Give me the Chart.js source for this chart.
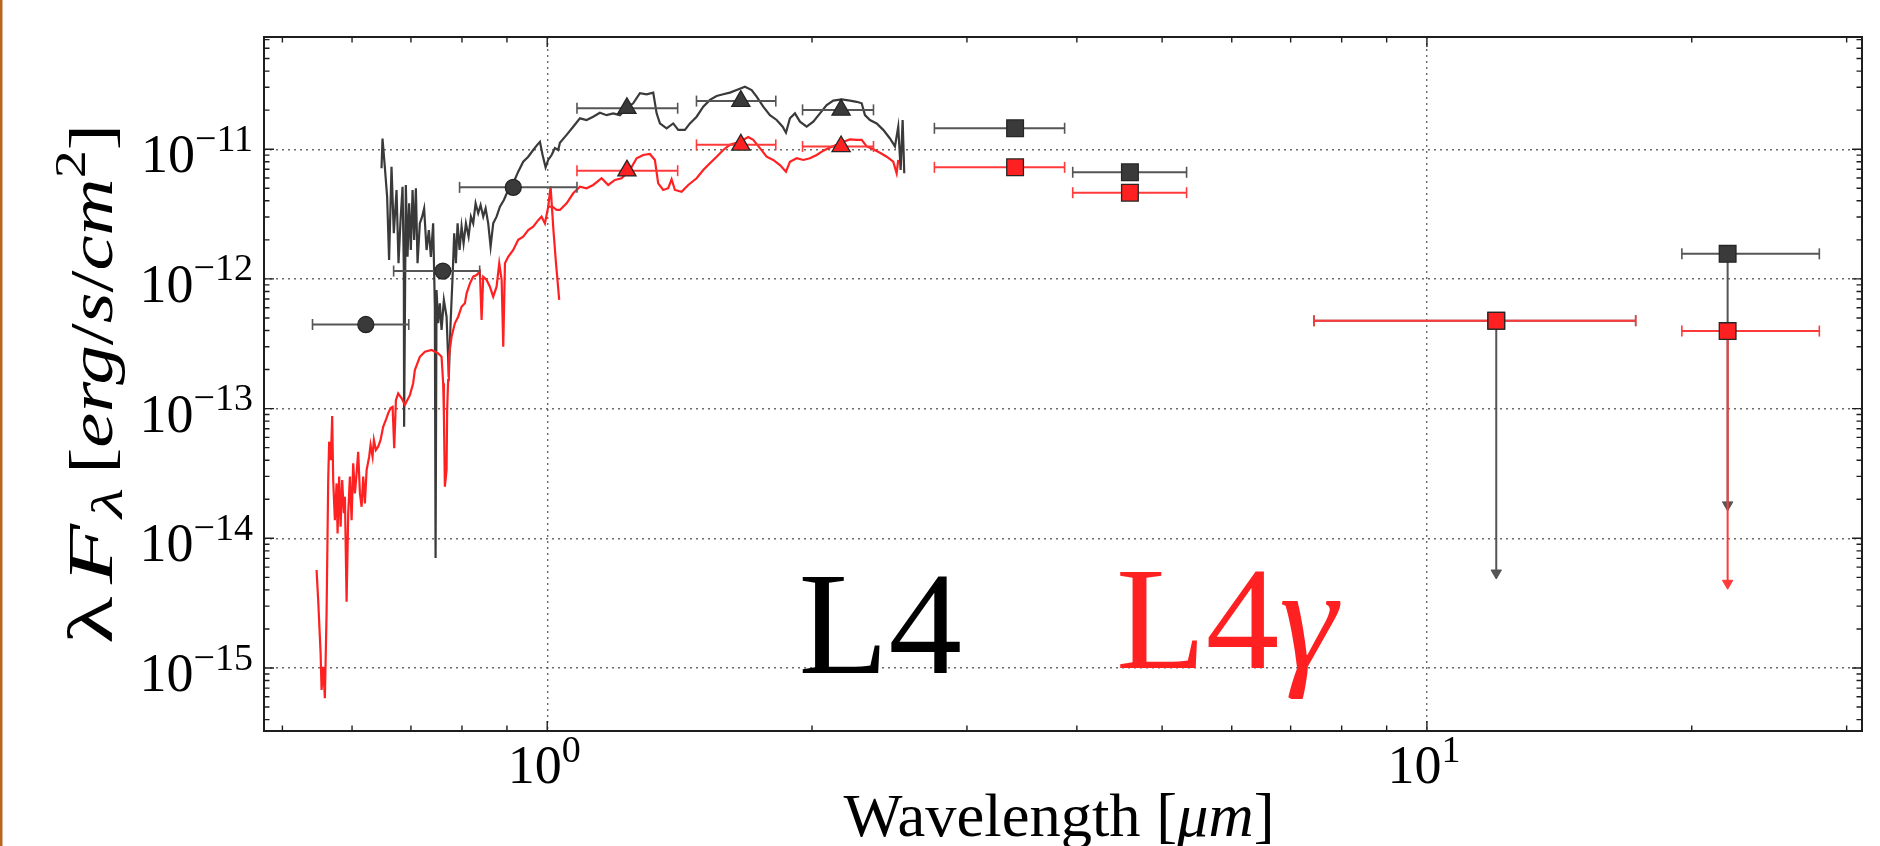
<!DOCTYPE html>
<html>
<head>
<meta charset="utf-8">
<script src="https://cdn.jsdelivr.net/npm/chart.js@4.4.1/dist/chart.umd.min.js"></script>
<style>
html,body{margin:0;padding:0;background:#ffffff;}
canvas{display:block;}
</style>
</head>
<body>
<canvas id="c" width="1880" height="846"></canvas>
<script>
// ---------------- DATA ----------------
// axis limits (wavelength in micron, flux in erg/s/cm^2)
const X_MIN = 0.4765, X_MAX = 31.23;
const Y_MIN = 3.268e-16, Y_MAX = 7.33e-11;
const xDecades = [0.1, 1, 10];
const yDecades = [1e-16, 1e-15, 1e-14, 1e-13, 1e-12, 1e-11];

// photometric bands
const photWave   = [0.622, 0.761, 0.915, 1.232, 1.660, 2.158, 3.403, 4.596, 11.99, 21.97];
const photWaveLo = [0.541, 0.669, 0.795, 1.081, 1.478, 1.951, 2.755, 3.957, 7.44, 19.49];
const photWaveHi = [0.696, 0.838, 1.081, 1.407, 1.819, 2.349, 3.874, 5.331, 17.27, 27.93];
const photBlack  = [4.45e-13, 1.15e-12, 5.08e-12, 2.07e-11, 2.35e-11, 2.01e-11, 1.45e-11, 6.64e-12, 4.76e-13, 1.56e-12];
const photRed    = [null, null, null, 6.83e-12, 1.08e-11, 1.05e-11, 7.25e-12, 4.62e-12, 4.76e-13, 3.96e-13];
const limitBlack = [null, null, null, null, null, null, null, null, 5.40e-15, 1.81e-14];
const limitRed   = [null, null, null, null, null, null, null, null, null, 4.50e-15];

// L4 template spectrum (black)
const specBlackWave = [0.6481,0.6498,0.6537,0.6577,0.6611,0.6653,0.6693,0.6741,0.6776,0.6812,0.6848,0.6871,0.6876,0.6907,0.6938,0.6967,0.6998,0.7030,0.7059,0.7091,0.7122,0.7165,0.7208,0.7246,0.7292,0.7336,0.7375,0.7419,0.7452,0.7466,0.7485,0.7517,0.7550,0.7584,0.7630,0.7684,0.7730,0.7765,0.7806,0.7839,0.7874,0.7909,0.7950,0.7992,0.8034,0.8083,0.8140,0.8190,0.8239,0.8291,0.8348,0.8400,0.8458,0.8511,0.8569,0.8623,0.8682,0.8759,0.8836,0.8928,0.9029,0.9149,0.9269,0.9391,0.9515,0.9640,0.9742,0.9811,0.9880,0.9958,1.0026,1.0116,1.0203,1.0292,1.0338,1.0521,1.0704,1.0894,1.1086,1.1279,1.1479,1.1682,1.1886,1.2096,1.2310,1.2524,1.2746,1.2972,1.3198,1.3316,1.3431,1.3669,1.3907,1.4091,1.4340,1.4529,1.4786,1.5044,1.5310,1.5581,1.5852,1.6133,1.6418,1.6779,1.7076,1.7301,1.7602,1.7914,1.8231,1.8520,1.8681,1.8877,1.9126,1.9378,1.9721,2.0065,2.0420,2.0781,2.1144,2.1614,2.2088,2.2479,2.2775,2.2972,2.3274,2.3686,2.4099,2.4525,2.4848,2.5063,2.5221,2.5353,2.5460];
const specBlackFlux = [7.12e-12,1.21e-11,7.33e-12,4.30e-12,1.40e-12,7.33e-12,2.25e-12,4.85e-12,1.32e-12,2.84e-12,5.14e-12,1.17e-12,7.25e-14,5.30e-12,1.48e-12,3.83e-12,1.67e-12,4.85e-12,2.00e-12,5.00e-12,1.32e-12,2.68e-12,3.02e-12,3.50e-12,1.67e-12,2.38e-12,1.48e-12,2.68e-12,6.10e-13,7.05e-15,8.21e-13,4.55e-13,6.48e-13,4.04e-13,6.88e-13,5.11e-13,1.76e-13,4.55e-13,1.04e-12,2.25e-12,1.32e-12,2.68e-12,1.67e-12,2.53e-12,1.88e-12,2.68e-12,2.12e-12,3.02e-12,2.68e-12,3.83e-12,3.21e-12,3.71e-12,3.02e-12,3.50e-12,2.68e-12,1.77e-12,2.68e-12,3.02e-12,3.60e-12,4.06e-12,4.85e-12,5.46e-12,6.71e-12,8.01e-12,8.75e-12,9.86e-12,1.08e-11,1.14e-11,9.02e-12,7.25e-12,8.26e-12,9.02e-12,1.02e-11,9.86e-12,1.12e-11,1.29e-11,1.49e-11,1.73e-11,1.68e-11,1.78e-11,1.91e-11,1.83e-11,1.89e-11,1.83e-11,2.07e-11,2.26e-11,2.70e-11,2.65e-11,2.73e-11,1.89e-11,1.58e-11,1.45e-11,1.58e-11,1.41e-11,1.41e-11,1.58e-11,1.78e-11,2.13e-11,2.40e-11,2.57e-11,2.65e-11,2.73e-11,2.86e-11,3.03e-11,2.86e-11,2.54e-11,2.13e-11,1.83e-11,1.68e-11,1.49e-11,1.34e-11,1.73e-11,1.89e-11,1.63e-11,1.49e-11,1.63e-11,1.89e-11,2.19e-11,2.37e-11,2.42e-11,2.37e-11,2.32e-11,2.26e-11,1.83e-11,1.68e-11,1.58e-11,1.41e-11,1.21e-11,1.05e-11,1.49e-11,6.91e-12,1.68e-11,6.52e-12];

// L4-gamma spectrum (red)
const specRedWave = [0.5468,0.5491,0.5526,0.5540,0.5563,0.5588,0.5613,0.5637,0.5651,0.5676,0.5696,0.5711,0.5736,0.5762,0.5777,0.5801,0.5823,0.5847,0.5873,0.5889,0.5915,0.5940,0.5966,0.5993,0.6018,0.6045,0.6072,0.6097,0.6125,0.6152,0.6178,0.6205,0.6233,0.6275,0.6298,0.6331,0.6353,0.6386,0.6425,0.6465,0.6509,0.6555,0.6595,0.6637,0.6672,0.6700,0.6730,0.6770,0.6831,0.6890,0.6932,0.6981,0.7041,0.7072,0.7165,0.7262,0.7389,0.7517,0.7584,0.7616,0.7630,0.7650,0.7684,0.7696,0.7716,0.7730,0.7785,0.7853,0.7921,0.7992,0.8062,0.8098,0.8169,0.8239,0.8313,0.8384,0.8422,0.8458,0.8533,0.8607,0.8682,0.8759,0.8820,0.8876,0.8913,0.8953,0.9029,0.9149,0.9269,0.9391,0.9515,0.9640,0.9767,0.9854,0.9940,1.0026,1.0142,1.0249,1.0338,1.0521,1.0704,1.0894,1.1086,1.1279,1.1530,1.1731,1.1939,1.2150,1.2416,1.2636,1.2856,1.3083,1.3256,1.3371,1.3547,1.3726,1.3849,1.3969,1.4216,1.4465,1.4786,1.5044,1.5310,1.5581,1.5852,1.6133,1.6560,1.6925,1.7147,1.7450,1.7759,1.8069,1.8389,1.8681,1.8877,1.9211,1.9546,1.9892,2.0245,2.0598,2.0962,2.1333,2.1705,2.2088,2.2479,2.2775,2.3075,2.3477,2.3893,2.4318,2.4737,2.4958,2.5063];
const specRedFlux = [5.70e-15,3.34e-15,1.30e-15,6.77e-16,1.02e-15,5.84e-16,2.64e-15,2.81e-14,5.56e-14,4.01e-14,8.77e-14,2.81e-14,1.38e-14,2.65e-14,1.09e-14,2.99e-14,1.23e-14,2.81e-14,1.56e-14,2.09e-14,3.24e-15,1.56e-14,2.99e-14,1.38e-14,3.79e-14,2.22e-14,3.17e-14,4.65e-14,2.22e-14,1.75e-14,2.99e-14,1.86e-14,3.36e-14,4.26e-14,5.24e-14,4.26e-14,5.73e-14,4.80e-14,5.09e-14,5.73e-14,7.25e-14,8.17e-14,9.20e-14,1.01e-13,1.03e-13,4.94e-14,1.16e-13,1.31e-13,1.20e-13,1.07e-13,1.16e-13,1.27e-13,1.57e-13,1.98e-13,2.51e-13,2.75e-13,2.83e-13,2.67e-13,2.51e-13,1.57e-13,9.20e-14,2.50e-14,3.36e-14,9.75e-14,1.66e-13,2.51e-13,3.58e-13,4.55e-13,5.11e-13,6.10e-13,6.48e-13,7.74e-13,9.25e-13,1.04e-12,1.07e-12,1.14e-12,4.82e-13,1.04e-12,9.81e-13,8.71e-13,7.29e-13,8.71e-13,1.32e-12,9.81e-13,3.00e-13,1.32e-12,1.48e-12,1.67e-12,2.00e-12,2.12e-12,2.38e-12,2.53e-12,2.84e-12,3.02e-12,2.68e-12,3.60e-12,3.60e-12,3.40e-12,3.40e-12,3.83e-12,4.57e-12,5.14e-12,5.00e-12,5.30e-12,5.97e-12,5.30e-12,5.79e-12,5.97e-12,6.91e-12,8.51e-12,9.02e-12,9.18e-12,8.26e-12,5.46e-12,4.85e-12,5.00e-12,5.86e-12,4.85e-12,4.70e-12,5.30e-12,5.97e-12,6.91e-12,7.79e-12,8.75e-12,9.86e-12,1.08e-11,1.14e-11,1.24e-11,1.18e-11,1.02e-11,8.75e-12,8.26e-12,7.55e-12,6.71e-12,8.01e-12,8.51e-12,8.26e-12,8.51e-12,9.02e-12,9.74e-12,1.03e-11,1.08e-11,1.14e-11,1.19e-11,1.18e-11,1.18e-11,1.05e-11,9.98e-12,9.40e-12,8.75e-12,8.01e-12,6.52e-12,8.26e-12];
// end of the red optical spectrum (falls off)
const specRedTailWave = [1.0026, 1.0089, 1.0164, 1.0230, 1.0319];
const specRedTailFlux = [3.60e-12, 5.14e-12, 2.38e-12, 1.35e-12, 6.88e-13];

// annotation texts and their anchors (data coords)
const labelBlack = {text: 'L4', x: 1.931, y: 9.2e-16};
const labelRed = {text: 'L4', greek: 'γ', x: 4.431, y: 1.0e-15};

// ---------------- STYLE ----------------
const SERIF = '"Liberation Serif", "DejaVu Serif", "Times New Roman", serif';
const DARK = '#3a3a3a';
const RED = '#ff2121';
const BAR_DARK = '#555555';
const BAR_RED = '#ff3a3a';
const GRID = 'rgba(70,70,70,0.8)';
const markerStyles = ['circle','circle','circle','triangle','triangle','triangle','rect','rect','rect','rect'];
const markerRadius = {circle: 8, triangle: 10.5, rect: 11.8};

function pts(wave, flux) { return wave.map((w, i) => ({x: w, y: flux[i]})); }

function makeTicks(decades, min, max) {
  const out = [];
  for (const d of decades) {
    for (let m = 1; m <= 9; m++) {
      const v = m * d;
      if (v >= min && v <= max) out.push({value: v, major: m === 1});
    }
  }
  out.sort((a, b) => a.value - b.value);
  return out;
}

const datasets = [];
// spectra
datasets.push({data: pts(specBlackWave, specBlackFlux), showLine: true, borderColor: DARK, borderWidth: 2.2, pointRadius: 0, order: 20});
datasets.push({data: pts(specRedWave, specRedFlux), showLine: true, borderColor: RED, borderWidth: 2.2, pointRadius: 0, order: 19});
datasets.push({data: pts(specRedTailWave, specRedTailFlux), showLine: true, borderColor: RED, borderWidth: 2.2, pointRadius: 0, order: 19});

// error bars, limits, markers
photWave.forEach((w, i) => {
  const series = [
    {flux: photBlack[i], lim: limitBlack[i], bar: BAR_DARK, fill: DARK, o: 0},
    {flux: photRed[i], lim: limitRed[i], bar: BAR_RED, fill: RED, o: -1}
  ];
  series.forEach(s => {
    if (s.flux == null) return;
    datasets.push({
      data: [{x: photWaveLo[i], y: s.flux}, {x: photWaveHi[i], y: s.flux}],
      showLine: true, borderColor: s.bar, borderWidth: 2,
      pointStyle: 'line', rotation: 90, pointRadius: 5.5,
      pointBorderColor: s.bar, pointBorderWidth: 1.6, order: 12 + s.o
    });
    if (s.lim != null) {
      datasets.push({
        data: [{x: w, y: s.flux}, {x: w, y: s.lim}],
        showLine: true, borderColor: s.bar, borderWidth: 2,
        pointStyle: 'triangle', rotation: 180, pointRadius: [0, 6],
        pointBackgroundColor: s.bar, pointBorderColor: s.bar, pointBorderWidth: 1, order: 8 + s.o
      });
    }
    datasets.push({
      data: [{x: w, y: s.flux}],
      pointStyle: markerStyles[i], pointRadius: markerRadius[markerStyles[i]],
      pointBackgroundColor: s.fill, pointBorderColor: '#262626', pointBorderWidth: 1.3,
      order: 4 + s.o
    });
  });
});

// ---------------- DRAW HELPERS ----------------
function fontStr(size, italic) { return (italic ? 'italic ' : '') + size + 'px ' + SERIF; }
function richWidth(ctx, segs) {
  let w = 0;
  for (const s of segs) { ctx.font = fontStr(s.size, s.italic); w += ctx.measureText(s.text).width + (s.gap || 0); }
  return w;
}
// draws a run of text pieces; optional target stretches it to that length
function drawRich(ctx, segs, x, y, align, target) {
  const nat = richWidth(ctx, segs);
  const sx = target ? target / nat : 1;
  ctx.save();
  ctx.translate(x, y);
  ctx.scale(sx, 1);
  let cx = align === 'center' ? -nat / 2 : (align === 'right' ? -nat : 0);
  ctx.textAlign = 'left';
  ctx.textBaseline = 'alphabetic';
  for (const s of segs) {
    ctx.font = fontStr(s.size, s.italic);
    ctx.fillText(s.text, cx, s.dy || 0);
    cx += ctx.measureText(s.text).width + (s.gap || 0);
  }
  ctx.restore();
}
function powSegs(v) {
  const e = Math.round(Math.log10(v));
  const es = (e < 0 ? '\u2212' : '') + Math.abs(e);
  return [{text: '10', size: 54}, {text: es, size: 38, dy: -21.5}];
}

const deco = {
  id: 'deco',
  beforeDraw(chart) {
    const ctx = chart.ctx;
    ctx.save();
    ctx.fillStyle = '#ffffff';
    ctx.fillRect(0, 0, chart.width, chart.height);
    ctx.fillStyle = '#b8661f';
    ctx.fillRect(0, 0, 2.5, chart.height);
    ctx.restore();
  },
  afterDraw(chart) {
    const {ctx, chartArea: a, scales: {x, y}} = chart;
    ctx.save();
    // frame
    ctx.strokeStyle = '#1e1e1e';
    ctx.lineWidth = 2;
    ctx.strokeRect(a.left, a.top, a.right - a.left, a.bottom - a.top);
    // inward ticks on all four sides
    ctx.lineWidth = 1.4;
    ctx.beginPath();
    for (const t of x.ticks) {
      const px = x.getPixelForValue(t.value);
      const L = t.major ? 10 : 5.5;
      ctx.moveTo(px, a.bottom); ctx.lineTo(px, a.bottom - L);
      ctx.moveTo(px, a.top); ctx.lineTo(px, a.top + L);
    }
    for (const t of y.ticks) {
      const py = y.getPixelForValue(t.value);
      const L = t.major ? 10 : 5.5;
      ctx.moveTo(a.left, py); ctx.lineTo(a.left + L, py);
      ctx.moveTo(a.right, py); ctx.lineTo(a.right - L, py);
    }
    ctx.stroke();
    // tick labels
    ctx.fillStyle = '#000';
    for (const t of x.ticks) {
      if (!t.major) continue;
      const px = x.getPixelForValue(t.value);
      drawRich(ctx, powSegs(t.value), px - 3, 783, 'center');
    }
    for (const t of y.ticks) {
      if (!t.major) continue;
      const py = y.getPixelForValue(t.value);
      drawRich(ctx, powSegs(t.value), a.left - 11, py + 23, 'right');
    }
    // x title
    drawRich(ctx, [
      {text: 'Wavelength ', size: 62},
      {text: '[', size: 62},
      {text: 'μm', size: 62, italic: true},
      {text: ']', size: 62}
    ], 1059, 836, 'center', 431);
    // y title (rotated)
    ctx.save();
    ctx.translate(112, 384);
    ctx.rotate(-Math.PI / 2);
    drawRich(ctx, [
      {text: 'λ', size: 64, gap: 8},
      {text: 'F', size: 64, italic: true, gap: 4},
      {text: 'λ', size: 45, italic: true, dy: 10}
    ], -260, 0, 'left', 156);
    drawRich(ctx, [
      {text: '[', size: 62},
      {text: 'erg', size: 62, italic: true},
      {text: '/', size: 62},
      {text: 's', size: 62, italic: true},
      {text: '/', size: 62},
      {text: 'cm', size: 62, italic: true},
      {text: '2', size: 44, dy: -27},
      {text: ']', size: 62}
    ], -90, 0, 'left', 350);
    ctx.restore();
    // annotations
    ctx.fillStyle = '#000000';
    drawRich(ctx, [{text: labelBlack.text, size: 147}], x.getPixelForValue(labelBlack.x), y.getPixelForValue(labelBlack.y), 'left');
    ctx.fillStyle = RED;
    drawRich(ctx, [{text: labelRed.text, size: 147}, {text: labelRed.greek, size: 147, italic: true}], x.getPixelForValue(labelRed.x), y.getPixelForValue(labelRed.y), 'left');
    ctx.restore();
  }
};

new Chart(document.getElementById('c'), {
  type: 'scatter',
  data: {datasets},
  options: {
    responsive: false,
    animation: false,
    devicePixelRatio: 1,
    layout: {padding: {left: 0, right: 18, top: 37, bottom: 0}},
    plugins: {legend: {display: false}, tooltip: {enabled: false}},
    elements: {line: {tension: 0}},
    scales: {
      x: {
        type: 'logarithmic', position: 'bottom', min: X_MIN, max: X_MAX,
        afterBuildTicks: s => { s.ticks = makeTicks(xDecades, X_MIN, X_MAX); },
        afterFit: s => { s.height = 115; },
        ticks: {display: false},
        grid: {drawTicks: false, lineWidth: 1.4, color: c => (c.tick && c.tick.major) ? GRID : 'rgba(0,0,0,0)'},
        border: {display: false, dash: [2, 4]}
      },
      y: {
        type: 'logarithmic', position: 'left', min: Y_MIN, max: Y_MAX,
        afterBuildTicks: s => { s.ticks = makeTicks(yDecades, Y_MIN, Y_MAX); },
        afterFit: s => { s.width = 264; },
        ticks: {display: false},
        grid: {drawTicks: false, lineWidth: 1.4, color: c => (c.tick && c.tick.major) ? GRID : 'rgba(0,0,0,0)'},
        border: {display: false, dash: [2, 4]}
      }
    }
  },
  plugins: [deco]
});
</script>
</body>
</html>
